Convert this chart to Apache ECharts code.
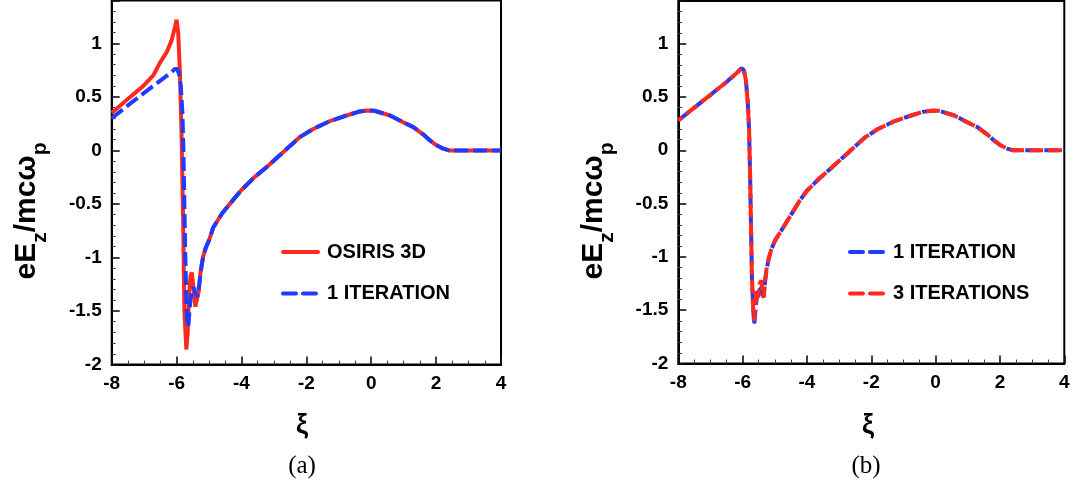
<!DOCTYPE html>
<html><head><meta charset="utf-8">
<script src="https://cdn.jsdelivr.net/npm/echarts@6/dist/echarts.min.js"></script>
<style>html,body{margin:0;padding:0;background:#fff}#c{width:1073px;height:489px}</style>
</head><body><div id="c"></div>
<script>
// ---------- data ----------
var xTicks = [-8, -6, -4, -2, 0, 2, 4];
var yTicks = [-2, -1.5, -1, -0.5, 0, 0.5, 1];
var legendA = ['OSIRIS 3D', '1 ITERATION'];
var legendB = ['1 ITERATION', '3 ITERATIONS'];

// Panel (a): OSIRIS 3D (red solid)
var aOsirisXi  = [-8, -7.54, -7.03, -6.72, -6.51, -6.3, -6.15, -6.05, -6.0, -5.95, -5.9, -5.85, -5.8, -5.76, -5.7, -5.66, -5.62, -5.57, -5.53, -5.48, -5.42, -5.36, -5.32, -5.26, -5.18, -5.1, -5.0, -4.87, -4.6, -4.25, -4.0, -3.6, -3.22, -2.71, -2.2, -1.79, -1.3, -0.76, -0.4, -0.14, 0.1, 0.58, 1.0, 1.3, 1.6, 1.81, 2.0, 2.22, 2.4, 3.0, 4.0];
var aOsirisVal = [0.35, 0.47, 0.60, 0.70, 0.82, 0.92, 1.03, 1.15, 1.22, 1.10, 0.75, 0.20, -0.60, -1.50, -1.86, -1.72, -1.38, -1.17, -1.14, -1.28, -1.46, -1.45, -1.32, -1.13, -0.99, -0.91, -0.84, -0.72, -0.59, -0.46, -0.37, -0.25, -0.155, -0.016, 0.124, 0.20, 0.27, 0.326, 0.36, 0.373, 0.37, 0.326, 0.26, 0.217, 0.15, 0.093, 0.05, 0.016, 0.0, 0.0, 0.0];

// Panel (a): 1 ITERATION (blue dashed)
var aIter1Xi  = [-8, -7.5, -7.03, -6.51, -6.2, -6.05, -5.98, -5.92, -5.87, -5.82, -5.79, -5.76, -5.73, -5.7, -5.67, -5.64, -5.59, -5.53, -5.48, -5.42, -5.36, -5.3, -5.23, -5.18, -5.1, -5.0, -4.87, -4.6, -4.25, -4.0, -3.6, -3.22, -2.71, -2.2, -1.79, -1.3, -0.76, -0.4, -0.14, 0.1, 0.58, 1.0, 1.3, 1.6, 1.81, 2.0, 2.22, 2.4, 3.0, 4.0];
var aIter1Val = [0.30, 0.42, 0.53, 0.65, 0.72, 0.76, 0.76, 0.71, 0.60, 0.35, 0.0, -0.50, -1.0, -1.40, -1.62, -1.65, -1.45, -1.31, -1.28, -1.33, -1.37, -1.25, -1.08, -0.99, -0.91, -0.84, -0.72, -0.59, -0.46, -0.37, -0.25, -0.155, -0.016, 0.124, 0.20, 0.27, 0.326, 0.36, 0.373, 0.37, 0.326, 0.26, 0.217, 0.15, 0.093, 0.05, 0.016, 0.0, 0.0, 0.0];

// Panel (b): 1 ITERATION (blue dashed)
var bIter1Xi  = [-8, -7.5, -7.0, -6.5, -6.2, -6.03, -5.96, -5.9, -5.84, -5.8, -5.77, -5.74, -5.71, -5.67, -5.64, -5.6, -5.55, -5.5, -5.44, -5.38, -5.33, -5.27, -5.2, -5.12, -5.0, -4.73, -4.22, -4.0, -3.6, -3.22, -2.71, -2.2, -1.79, -1.3, -0.76, -0.4, -0.14, 0.1, 0.58, 1.0, 1.3, 1.6, 1.81, 2.0, 2.22, 2.4, 3.0, 4.0];
var bIter1Val = [0.28, 0.40, 0.52, 0.64, 0.72, 0.77, 0.75, 0.66, 0.45, 0.20, -0.20, -0.70, -1.20, -1.50, -1.64, -1.50, -1.35, -1.28, -1.30, -1.36, -1.30, -1.15, -1.03, -0.94, -0.85, -0.72, -0.47, -0.38, -0.26, -0.16, -0.02, 0.12, 0.20, 0.27, 0.326, 0.36, 0.37, 0.37, 0.326, 0.26, 0.217, 0.15, 0.093, 0.05, 0.016, 0.0, 0.0, 0.0];

// Panel (b): 3 ITERATIONS (red dashed)
var bIter3Xi  = [-8, -7.5, -7.0, -6.5, -6.2, -6.03, -5.96, -5.9, -5.84, -5.8, -5.77, -5.74, -5.71, -5.67, -5.64, -5.6, -5.56, -5.52, -5.47, -5.42, -5.38, -5.34, -5.3, -5.25, -5.2, -5.12, -5.0, -4.73, -4.22, -4.0, -3.6, -3.22, -2.71, -2.2, -1.79, -1.3, -0.76, -0.4, -0.14, 0.1, 0.58, 1.0, 1.3, 1.6, 1.81, 2.0, 2.22, 2.4, 3.0, 4.0];
var bIter3Val = [0.28, 0.40, 0.52, 0.64, 0.72, 0.77, 0.75, 0.66, 0.45, 0.20, -0.20, -0.70, -1.20, -1.50, -1.60, -1.42, -1.30, -1.38, -1.25, -1.22, -1.36, -1.38, -1.22, -1.10, -1.03, -0.94, -0.85, -0.72, -0.47, -0.38, -0.26, -0.16, -0.02, 0.12, 0.20, 0.27, 0.326, 0.36, 0.37, 0.37, 0.326, 0.26, 0.217, 0.15, 0.093, 0.05, 0.016, 0.0, 0.0, 0.0];

var RED = '#ff2a1e', BLUE = '#1e3cff';
var FONT = '"Liberation Sans", Arial, Helvetica, sans-serif';
var SERIF = '"Liberation Serif", "Times New Roman", serif';
var DASH = [14, 5];
var Y_MIN = -2, Y_MAX = 1.4;

function zip(xs, ys) { var o = []; for (var i = 0; i < xs.length; i++) o.push([xs[i], ys[i]]); return o; }

function xAxisCfg(gi) {
  return {
    type: 'value', gridIndex: gi, min: xTicks[0], max: xTicks[xTicks.length - 1], interval: 2,
    axisLine: { show: true, onZero: false, lineStyle: { color: '#000', width: 2 } },
    axisTick: { show: true, inside: true, length: 8, lineStyle: { color: '#111', width: 1.6 } },
    minorTick: { show: true, splitNumber: 4, length: 4, lineStyle: { color: '#444', width: 1.1 } },
    splitLine: { show: false },
    axisLabel: { color: '#000', fontSize: 19, fontWeight: 'bold', fontFamily: FONT, margin: 10 }
  };
}
function yAxisCfg(gi) {
  return {
    type: 'value', gridIndex: gi, min: Y_MIN, max: Y_MAX, interval: 0.5,
    axisLine: { show: true, onZero: false, lineStyle: { color: '#000', width: 2 } },
    axisTick: { show: true, inside: true, length: 8, lineStyle: { color: '#111', width: 1.6 } },
    minorTick: { show: true, splitNumber: 5, length: 4, lineStyle: { color: '#444', width: 1.1 } },
    splitLine: { show: false },
    axisLabel: { color: '#000', fontSize: 19, fontWeight: 'bold', fontFamily: FONT, margin: 10, showMaxLabel: false,
      formatter: function (v) { var r = Math.round(v * 100) / 100; return yTicks.indexOf(r) >= 0 ? String(r) : ''; } }
  };
}
function yTitle(x) {
  return {
    type: 'text', x: x, y: 211, rotation: Math.PI / 2, silent: true,
    style: {
      text: '{m|eE}{s|z}{m|/mcω}{s|p}', align: 'center', verticalAlign: 'middle',
      rich: {
        m: { fontSize: 30, fontWeight: 'bold', fontFamily: FONT, fill: '#000', lineHeight: 30, verticalAlign: 'top' },
        s: { fontSize: 21, fontWeight: 'bold', fontFamily: FONT, fill: '#000', lineHeight: 56, verticalAlign: 'middle' }
      }
    }
  };
}
function plainText(x, y, txt, size, family, weight, align) {
  return { type: 'text', x: x, y: y, silent: true,
    style: { text: txt, fontSize: size, fontFamily: family, fontWeight: weight, fill: '#000', align: align || 'center', verticalAlign: 'middle' } };
}
function legendLine(x, y, color, dash) {
  return { type: 'line', silent: true, shape: { x1: x, y1: y, x2: x + 35, y2: y },
    style: { stroke: color, lineWidth: 4, lineDash: dash, lineCap: 'round' } };
}

var chart = echarts.init(document.getElementById('c'));
chart.setOption({
  animation: false,
  backgroundColor: '#fff',
  grid: [
    { left: 111.7, top: 0.5, width: 389.3, height: 364, show: true, borderColor: '#000', borderWidth: 2 },
    { left: 678.3, top: 1, width: 386, height: 362.5, show: true, borderColor: '#000', borderWidth: 2 }
  ],
  xAxis: [xAxisCfg(0), xAxisCfg(1)],
  yAxis: [yAxisCfg(0), yAxisCfg(1)],
  series: [
    { name: legendA[0], type: 'line', xAxisIndex: 0, yAxisIndex: 0, data: zip(aOsirisXi, aOsirisVal),
      symbol: 'none', z: 2, lineStyle: { color: RED, width: 4 } },
    { name: legendA[1], type: 'line', xAxisIndex: 0, yAxisIndex: 0, data: zip(aIter1Xi, aIter1Val),
      symbol: 'none', z: 3, lineStyle: { color: BLUE, width: 4, type: DASH } },
    { name: legendB[0], type: 'line', xAxisIndex: 1, yAxisIndex: 1, data: zip(bIter1Xi, bIter1Val),
      symbol: 'none', z: 2, lineStyle: { color: BLUE, width: 4, type: DASH } },
    { name: legendB[1], type: 'line', xAxisIndex: 1, yAxisIndex: 1, data: zip(bIter3Xi, bIter3Val),
      symbol: 'none', z: 3, lineStyle: { color: RED, width: 4, type: DASH, dashOffset: 9 } }
  ],
  graphic: [
    yTitle(40), yTitle(607),
    plainText(302, 426, 'ξ', 27, FONT, 'bold'), plainText(868, 426, 'ξ', 27, FONT, 'bold'),
    plainText(302, 466, '(a)', 25, SERIF, 'normal'),
    plainText(866, 466, '(b)', 25, SERIF, 'normal'),
    legendLine(283, 252, RED, null), plainText(327, 252, legendA[0], 20, FONT, 'bold', 'left'),
    legendLine(283, 293.5, BLUE, [13, 7]), plainText(327, 293.5, legendA[1], 20, FONT, 'bold', 'left'),
    legendLine(850, 252, BLUE, [13, 7]), plainText(893, 252, legendB[0], 20, FONT, 'bold', 'left'),
    legendLine(850, 293.5, RED, [13, 7]), plainText(893, 293.5, legendB[1], 20, FONT, 'bold', 'left')
  ]
});
</script></body></html>
